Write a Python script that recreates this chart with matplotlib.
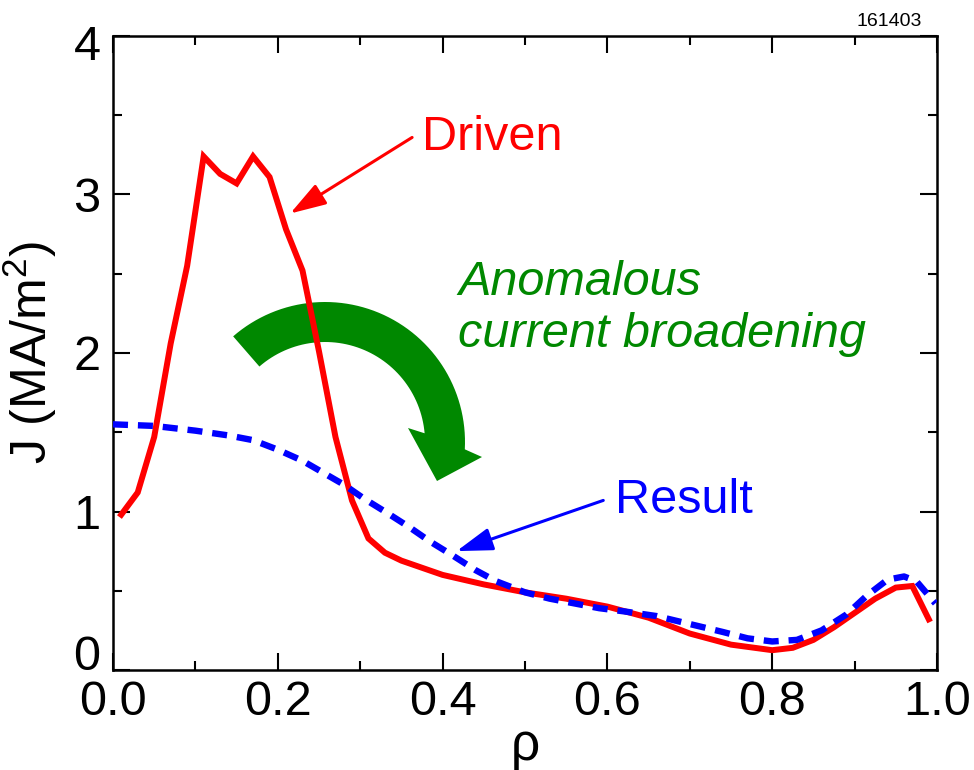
"""Driven vs. result current profile chart."""
import numpy as np
import matplotlib

matplotlib.use("Agg")
import matplotlib.pyplot as plt
from matplotlib.patches import Polygon
from matplotlib.transforms import ScaledTranslation

plt.rcParams["font.family"] = ["Liberation Sans", "DejaVu Sans"]
plt.rcParams["mathtext.fontset"] = "custom"
plt.rcParams["mathtext.rm"] = "Liberation Sans"
plt.rcParams["mathtext.it"] = "Liberation Sans:italic"

# driven current profile (red)
rho_driven = [0.010, 0.030, 0.050, 0.070, 0.090, 0.110, 0.130, 0.150, 0.170, 0.190,
              0.210, 0.230, 0.250, 0.270, 0.290, 0.310, 0.330, 0.350, 0.400, 0.450,
              0.500, 0.550, 0.600, 0.650, 0.700, 0.750, 0.800, 0.825, 0.850, 0.875,
              0.900, 0.925, 0.950, 0.970, 0.990]
j_driven = [0.98, 1.12, 1.47, 2.06, 2.55, 3.24, 3.13, 3.07, 3.24, 3.11,
            2.78, 2.52, 2.01, 1.47, 1.07, 0.83, 0.74, 0.69, 0.60, 0.54,
            0.49, 0.45, 0.40, 0.33, 0.23, 0.16, 0.125, 0.14, 0.19, 0.27,
            0.36, 0.45, 0.52, 0.53, 0.32]

# resulting current profile (blue dashed)
rho_result = [0.0, 0.05, 0.10, 0.14, 0.17, 0.20, 0.23, 0.26, 0.28, 0.305,
              0.333, 0.36, 0.385, 0.41, 0.44, 0.465, 0.50, 0.53, 0.56, 0.59,
              0.62, 0.66, 0.70, 0.74, 0.77, 0.80, 0.83, 0.86, 0.89, 0.915,
              0.94, 0.96, 0.975, 0.998]
j_result = [1.55, 1.54, 1.51, 1.48, 1.45, 1.39, 1.32, 1.23, 1.17, 1.08,
            0.99, 0.90, 0.81, 0.73, 0.63, 0.56, 0.49, 0.45, 0.42, 0.39,
            0.37, 0.34, 0.29, 0.24, 0.20, 0.18, 0.19, 0.25, 0.35, 0.47,
            0.57, 0.59, 0.56, 0.42]

x_ticks = [0.0, 0.2, 0.4, 0.6, 0.8, 1.0]
x_labels = ["0.0", "0.2", "0.4", "0.6", "0.8", "1.0"]
y_ticks = [0, 1, 2, 3, 4]
y_labels = ["0", "1", "2", "3", "4"]

FS = 35

fig = plt.figure(figsize=(9.74, 7.70), dpi=100)
ax = fig.add_axes([113 / 974, 1 - 670 / 770, 824 / 974, 634 / 770])

ax.plot(rho_driven, j_driven, color="#ff0000", lw=4.3, solid_joinstyle="miter", zorder=3)
ax.plot(rho_result, j_result, color="#0000ff", lw=4.6, dashes=(2.35, 1.55), zorder=4)

ax.set_xlim(0, 1.0)
ax.set_ylim(0, 4)
ax.set_xticks(x_ticks, x_labels)
ax.set_yticks(y_ticks, y_labels)
ax.set_xticks(np.arange(0.1, 1.0, 0.2), minor=True)
ax.set_yticks(np.arange(0.5, 4.0, 1.0), minor=True)
ax.tick_params(which="both", direction="in", top=True, right=True, width=1.5,
               labelsize=FS, color="black")
ax.tick_params(which="major", length=12.5)
ax.tick_params(which="minor", length=6.5)
ax.tick_params(axis="x", pad=7)
ax.tick_params(axis="y", pad=9)
for s in ax.spines.values():
    s.set_linewidth(1.8)

ylabs = ax.get_yticklabels()
ylabs[0].set_va("baseline")
ylabs[-1].set_transform(ylabs[-1].get_transform()
                        + ScaledTranslation(0, -0.07, fig.dpi_scale_trans))

ax.set_xlabel("ρ", fontsize=FS + 2, labelpad=-2)
ax.set_ylabel("J (MA/m$^2$)", fontsize=FS + 1, labelpad=10)

fig.text(922 / 974, 1 - 22 / 770, "161403", fontsize=14, ha="right", va="center")

# annotations
ax.text(0.375, 3.36, "Driven", color="#ff0000", fontsize=FS, ha="left", va="center")
ax.annotate("", xy=(0.215, 2.88), xytext=(0.363, 3.36),
            arrowprops=dict(arrowstyle="-|>,head_length=22,head_width=7",
                            mutation_scale=1, color="#ff0000", lw=2.2,
                            shrinkA=0, shrinkB=0))
ax.text(0.609, 1.07, "Result", color="#0000ff", fontsize=FS, ha="left", va="center")
ax.annotate("", xy=(0.417, 0.75), xytext=(0.595, 1.07),
            arrowprops=dict(arrowstyle="-|>,head_length=22,head_width=7",
                            mutation_scale=1, color="#0000ff", lw=2.2,
                            shrinkA=0, shrinkB=0))
ax.text(0.419, 2.28, "Anomalous\ncurrent broadening", color="#008800",
        fontsize=FS, style="italic", ha="left", va="center", linespacing=1.2)

# curved green arrow, built in pixel space then mapped to axes fraction
cx, cy, r_out, r_in = 325.0, 442.0, 140.0, 100.0


def to_axes(px, py):
    return ((px - 113) / 824, (670 - py) / 634)


pts = []
for a in np.linspace(131, -3, 60):
    t = np.radians(a)
    pts.append(to_axes(cx + r_out * np.cos(t), cy - r_out * np.sin(t)))
pts += [to_axes(482, 457), to_axes(437, 481), to_axes(408, 428)]
for a in np.linspace(5, 131, 60):
    t = np.radians(a)
    pts.append(to_axes(cx + r_in * np.cos(t), cy - r_in * np.sin(t)))
ax.add_patch(Polygon(pts, closed=True, transform=ax.transAxes, facecolor="#008800",
                     edgecolor="none", zorder=1.5))

fig.savefig("out.png", dpi=100)
